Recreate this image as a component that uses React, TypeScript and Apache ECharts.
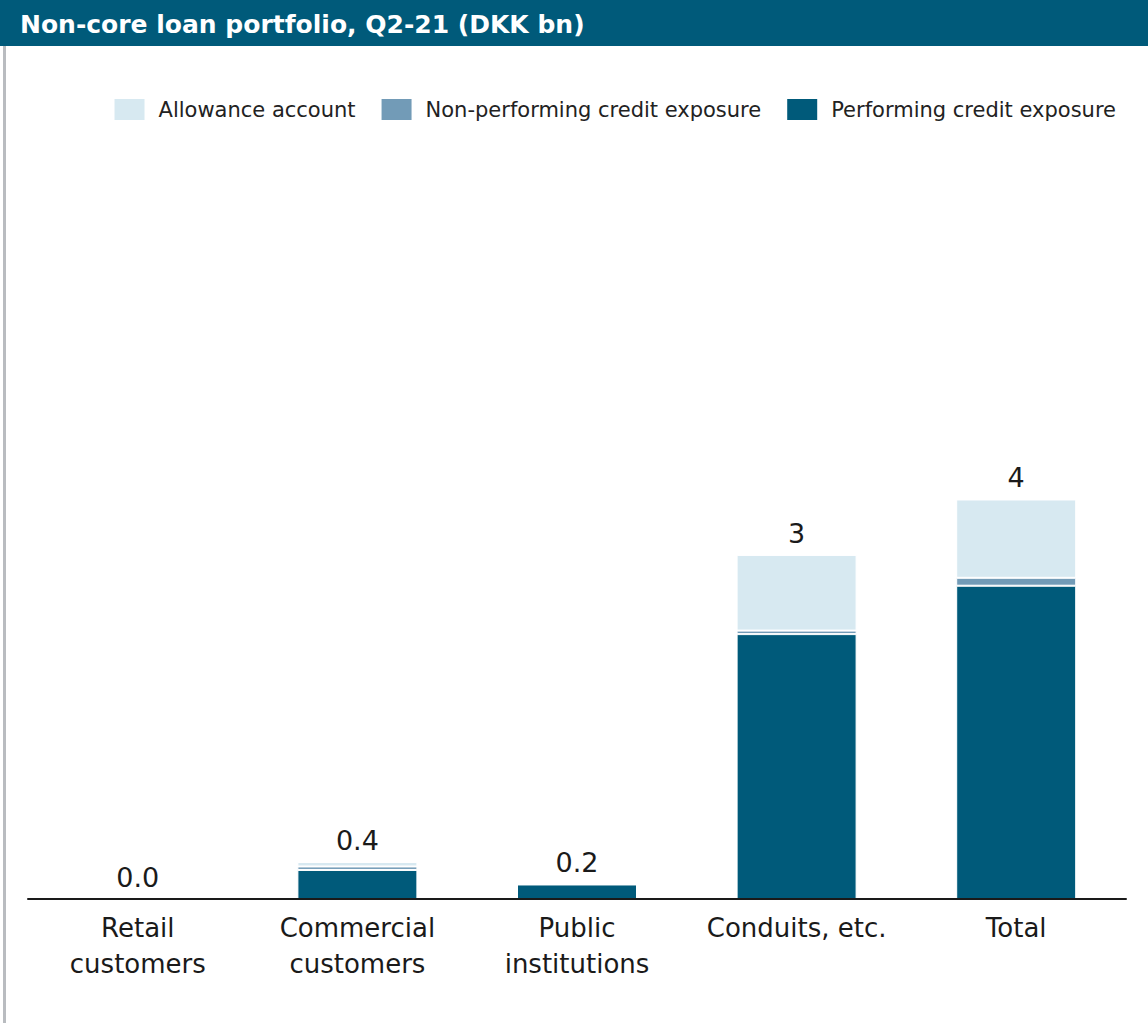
import React, { useEffect, useRef } from "react";
import * as echarts from "echarts";

const categories = ["Retail\ncustomers", "Commercial\ncustomers", "Public\ninstitutions", "Conduits, etc.", "Total"];
const performing = [0, 0.33, 0.165, 3.01, 3.56];
const nonPerforming = [0, 0.04, 0, 0.04, 0.09];
const allowance = [0, 0.05, 0.005, 0.86, 0.89];
const seriesNames = ["Allowance account", "Non-performing credit exposure", "Performing credit exposure"];
const colors = { performing: "#005a7a", nonPerforming: "#729bb7", allowance: "#d7e9f1" };

const FONT = "'DejaVu Sans', 'Noto Sans', sans-serif";

function fmt(v: number): string {
  return v >= 1 ? String(Math.round(v)) : v.toFixed(1);
}

export default function App() {
  const ref = useRef<HTMLDivElement>(null);
  useEffect(() => {
    document.body.style.margin = "0";
    const chart = echarts.init(ref.current!, null, { renderer: "svg" });
    const exposure = performing.map((p, i) => p + nonPerforming[i]);
    const barCommon = {
      type: "bar" as const,
      stack: "s",
      barWidth: 120,
      itemStyle: { borderColor: "#ffffff", borderWidth: 1 },
    };
    chart.setOption({
      animation: false,
      textStyle: { fontFamily: FONT },
      graphic: [
        { type: "rect", shape: { x: 0, y: 0, width: 1148, height: 46 }, style: { fill: "#005a7a" } },
        { type: "rect", shape: { x: 3, y: 46, width: 3, height: 977 }, style: { fill: "#b9bcc0" } },
        {
          type: "text",
          x: 20,
          y: 24,
          style: {
            text: "Non-core loan portfolio, Q2-21 (DKK bn)",
            fill: "#ffffff",
            font: `bold 25px ${FONT}`,
            verticalAlign: "middle",
          },
        },
      ],
      legend: {
        data: seriesNames,
        right: 27,
        top: 92,
        icon: "rect",
        itemWidth: 32,
        itemHeight: 23,
        itemGap: 24,
        textStyle: { fontSize: 21, color: "#222222", fontFamily: FONT, padding: [0, 0, 0, 8] },
      },
      grid: { left: 28, right: 22, top: 459, bottom: 124 },
      xAxis: {
        type: "category",
        data: categories,
        z: 5,
        axisLine: { lineStyle: { color: "#1a1a1a", width: 2 } },
        axisTick: { show: false },
        axisLabel: { interval: 0, fontSize: 26, color: "#1a1a1a", lineHeight: 36, margin: 11, fontFamily: FONT },
      },
      yAxis: { type: "value", min: 0, max: 5, show: false, splitLine: { show: false } },
      series: [
        { ...barCommon, name: seriesNames[2], data: performing, itemStyle: { ...barCommon.itemStyle, color: colors.performing } },
        { ...barCommon, name: seriesNames[1], data: nonPerforming, itemStyle: { ...barCommon.itemStyle, color: colors.nonPerforming } },
        {
          ...barCommon,
          name: seriesNames[0],
          data: allowance,
          itemStyle: { ...barCommon.itemStyle, color: colors.allowance },
          label: {
            show: true,
            position: "top",
            distance: 8,
            fontSize: 27,
            color: "#1a1a1a",
            fontFamily: FONT,
            formatter: (p: any) => fmt(exposure[p.dataIndex]),
          },
        },
      ],
    });
    return () => chart.dispose();
  }, []);
  return <div ref={ref} style={{ width: 1148, height: 1023 }} />;
}
